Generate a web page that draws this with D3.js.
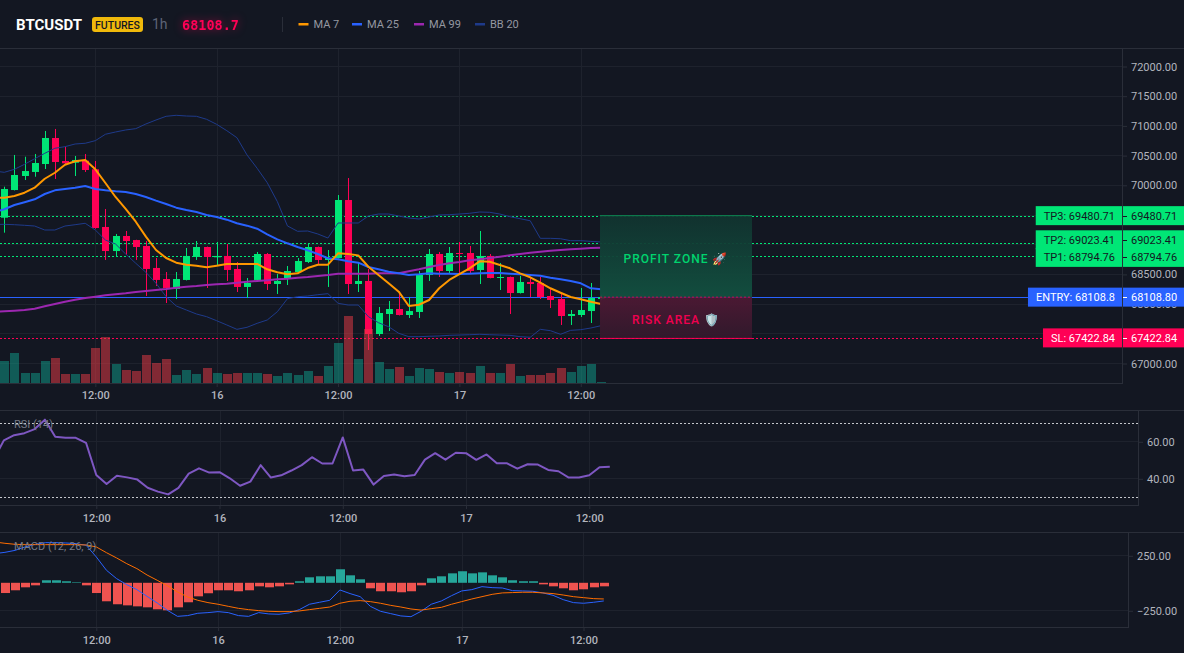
<!DOCTYPE html>
<html>
<head>
<meta charset="utf-8">
<script src="https://cdn.jsdelivr.net/npm/d3@7"></script>
<style>
  html, body { margin: 0; padding: 0; background: #131722; overflow: hidden; }
  svg { display: block; }
  text { font-family: Roboto, sans-serif; }
</style>
</head>
<body>
<div id="chart"></div>
<script>
// bars, one per hour
const opens = [69446,69912,70148,70216,70350,70788,70401,70372,70406,70261,69290,68885,69138,69070,68970,68600,68414,68246,68398,68785,68953,68780,68802,68583,68280,68398,68835,68330,68431,68532,68700,68953,68734,68768,69744,68330,68381,67488,67825,67909,67808,67859,68482,68835,68549,68852,68852,68566,68802,68431,68448,68178,68364,68347,68128,68077,67791,67808,67875,68077];
const closes = [69929,70165,70232,70367,70788,70384,70362,70418,70249,69273,68885,69138,69054,68953,68583,68398,68263,68414,68802,68953,68785,68802,68566,68280,68347,68835,68330,68381,68549,68717,68953,68734,68768,69744,68330,68381,67488,67842,67909,67808,67875,68482,68835,68549,68852,68835,68549,68802,68431,68448,68178,68364,68330,68111,68061,67791,67825,67892,68094,68108.8];
const highs = [69968,70502,70473,70519,70906,70940,70637,70485,70519,70401,69593,69172,69222,69075,69054,68768,68532,68532,68936,69054,68960,69037,69003,68700,68431,68869,68852,68498,68633,68768,69003,68960,68902,69828,70114,68684,68583,67943,68044,68195,68111,68549,68919,68869,68953,69037,68970,69222,68835,68684,68455,68465,68448,68448,68263,68162,67892,68263,68347,68150];
const lows = [69194,69905,70081,70136,70266,70098,70350,70148,70216,69260,68735,68785,68819,68735,68128,68297,68010,68077,68390,68735,68263,68633,68381,68195,68094,68390,68229,68162,68313,68525,68684,68650,68280,68760,68162,68195,67219,67455,67539,67800,67758,67758,68381,68448,68515,68515,68515,68330,68425,68229,67825,68170,68111,68077,67926,67640,67640,67774,67673,68060];
const volumes = [2200,3000,1000,1000,2200,2500,900,900,900,3500,4600,1900,1300,1200,2800,2000,2400,800,1300,900,1500,1000,900,1000,1000,1000,900,700,1000,800,1200,700,1700,4000,6700,2400,5400,2100,1400,1600,700,1500,1400,1100,1000,1100,1000,1700,1000,1000,1900,700,800,800,1000,1500,1100,1700,1900,100];

// the line series start one bar before the first candle, off the left edge
const ma7 = [69778,69783,69812,69867,69951,70102,70203,70338,70396,70418,70261,70030,69795,69593,69379,69127,68902,68768,68689,68655,68638,68611,68638,68667,68667,68667,68667,68578,68527,68493,68510,68599,68655,68655,68846,68835,68812,68621,68482,68342,68201,67960,67981,68061,68258,68398,68498,68594,68712,68705,68650,68594,68510,68443,68352,68258,68183,68111,68072,68032,67993];
const ma25 = [69542,69588,69660,69706,69756,69845,69907,69929,69951,69980,69929,69907,69890,69879,69845,69795,69733,69677,69615,69576,69542,69492,69458,69413,69352,69312,69261,69167,69082,69015,68953,68897,68835,68763,68746,68712,68689,68616,68578,68537,68510,68482,68493,68510,68503,68503,68498,68503,68510,68515,68515,68503,68493,68482,68470,68436,68409,68381,68342,68258,68241];
const ma99 = [67859,67870,67880,67892,67914,67955,67993,68032,68066,68094,68116,68140,68157,68173,68195,68212,68229,68246,68268,68285,68296,68313,68325,68335,68352,68369,68381,68392,68409,68419,68436,68448,68465,68482,68503,68503,68503,68503,68510,68510,68510,68544,68578,68616,68650,68678,68700,68729,68746,68768,68790,68813,68835,68857,68874,68890,68902,68914,68924,68936,68941];
const bbUpper = [70232,70210,70261,70345,70439,70530,70615,70642,70687,70699,70743,70851,70889,70923,70945,71024,71091,71153,71170,71158,71153,71103,71018,70911,70793,70502,70278,70035,69716,69307,69217,69222,69172,69104,69357,69357,69357,69475,69508,69508,69475,69441,69424,69458,69492,69497,69508,69520,69542,69537,69508,69463,69429,69395,69099,69099,69092,69059,69059,69048,69037];
const bbLower = [69332,69335,69328,69318,69306,69239,69239,69306,69328,69352,69239,69070,69003,68835,68679,68527,68342,68116,67960,67892,67825,67780,67712,67640,67567,67601,67668,67724,67864,68083,68116,68128,68150,68167,68005,67976,67976,67780,67678,67611,67500,67443,67443,67450,67455,67466,67471,67476,67483,67476,67471,67466,67443,67433,67567,67544,67483,67550,67561,67589,67628];
const rsi = [50.1,60.5,63.3,64.4,66.6,71.7,62.4,61.9,61.9,59.2,41.8,36.9,41.4,40.5,39.3,34.9,32.8,31.3,34.8,42.5,45.4,43.1,43.3,40,36,38.2,47.1,40.4,41.6,44.2,47.1,51.4,48,48,62.1,44.2,44.7,36.6,41.3,42,41.1,41.8,50.1,53.6,50.1,53.8,53.6,50,52.9,48.1,48.1,45.2,47.6,47.4,44.5,43.8,40.4,40.4,41.6,46,46.2];
const macdLine = [265,277,295,326,350,365,365,362,356,341,235,114,38,-17,-62,-123,-183,-250,-305,-298,-277,-271,-262,-271,-298,-305,-271,-283,-286,-274,-244,-195,-177,-159,-65,-98,-126,-214,-259,-280,-301,-308,-259,-195,-165,-117,-74,-62,-35,-44,-47,-71,-74,-77,-92,-114,-153,-180,-186,-177,-165];
const signalLine = [371,359,350,347,347,347,347,347,347,344,326,274,226,174,129,71,23,-26,-83,-129,-159,-180,-195,-214,-232,-244,-253,-259,-262,-262,-256,-244,-232,-220,-186,-168,-162,-171,-186,-205,-220,-238,-248,-235,-223,-195,-171,-147,-126,-105,-92,-89,-86,-86,-92,-98,-111,-126,-135,-144,-147];
const macdHist = [-93,-68,-41,-23,23,23,14,5,-23,-93,-168,-195,-205,-214,-223,-241,-250,-223,-177,-123,-95,-68,-68,-77,-68,-32,-41,-32,-14,14,50,59,59,123,68,32,-50,-77,-77,-86,-77,-23,41,59,86,105,86,95,68,50,23,14,14,-14,-32,-50,-68,-59,-41,-32];

const timeTicks = [9, 21, 33, 45, 57];
const timeLabels = ['12:00', '16', '12:00', '17', '12:00'];
const priceGrid = [72000, 71500, 71000, 70500, 70000, 69500, 69000, 68500, 68000, 67500, 67000];
// 69500, 69000 and 67500 are covered by the level tags
const priceTicks = [72000, 71500, 71000, 70500, 70000, 68500, 68000, 67000];
const rsiTicks = [60, 40];
const rsiBands = [70, 30];
const macdTicks = [250, -250];

const levelNames = ['TP3', 'TP2', 'TP1', 'ENTRY', 'SL'];
const levelPrices = [69480.71, 69023.41, 68794.76, 68108.8, 67422.84];
const levelTexts = ['69480.71', '69023.41', '68794.76', '68108.8', '67422.84'];
const levelAxis = ['69480.71', '69023.41', '68794.76', '68108.80', '67422.84'];

const width = 1184;
const height = 653;
const bg = '#131722';
const gridColor = '#1e222d';
const borderColor = '#2a2e39';
const axisText = '#b2b5be';
const up = '#00e676';
const down = '#ff0055';
const levelColors = [up, up, up, '#2962ff', down];
const levelInk = [bg, bg, bg, '#ffffff', '#ffffff'];

const svg = d3.select('#chart').append('svg')
    .attr('width', width)
    .attr('height', height)
    .style('background', bg);

const defs = svg.append('defs');

function gradient(id, from, to) {
    const g = defs.append('linearGradient').attr('id', id).attr('x1', 0).attr('x2', 0).attr('y1', 0).attr('y2', 1);
    g.append('stop').attr('offset', 0).attr('stop-color', from);
    g.append('stop').attr('offset', 1).attr('stop-color', to);
}
gradient('profitFill', '#11332f', '#125040');
gradient('riskFill', '#4e1934', '#32192c');

// scales, each pane has its own bar spacing
const xMain = d3.scaleLinear().domain([0, 59]).range([4.3, 601]);
const xRsi = d3.scaleLinear().domain([0, 59]).range([3.87, 609.8]);
const xMacd = d3.scaleLinear().domain([0, 59]).range([4.95, 603.8]);
const yPrice = d3.scaleLinear().domain([67000, 72000]).range([363, 66]);
const yVolume = d3.scaleLinear().domain([0, 6700]).range([383, 316]);
const yRsi = d3.scaleLinear().domain([40, 60]).range([478.3, 441.3]);
const yMacd = d3.scaleLinear().domain([-250, 250]).range([610.3, 555.3]);

const bars = d3.range(60).map(i => ({i, open: opens[i], close: closes[i], high: highs[i], low: lows[i], volume: volumes[i], hist: macdHist[i]}));

function hGrid(values, y, x1) {
    svg.append('g').selectAll('line').data(values).join('line')
        .attr('x1', 0).attr('x2', x1)
        .attr('y1', d => Math.round(y(d)) + 0.5).attr('y2', d => Math.round(y(d)) + 0.5)
        .attr('stroke', gridColor);
}

function vGrid(x, top, bottom) {
    svg.append('g').selectAll('line').data(timeTicks).join('line')
        .attr('x1', d => Math.round(x(d)) + 0.5).attr('x2', d => Math.round(x(d)) + 0.5)
        .attr('y1', top).attr('y2', bottom)
        .attr('stroke', gridColor);
}

function timeAxis(x, bottom, pad) {
    const g = svg.append('g')
        .attr('transform', `translate(0, ${bottom})`)
        .call(d3.axisBottom(x).tickValues(timeTicks).tickFormat((d, k) => timeLabels[k]).tickSize(4).tickPadding(pad));
    g.select('.domain').remove();
    g.selectAll('line').attr('stroke', borderColor);
    g.selectAll('text').attr('fill', axisText).attr('font-size', 11).attr('font-weight', 500).attr('font-family', 'Roboto, sans-serif');
}

function valueAxis(y, values, left) {
    const g = svg.append('g')
        .attr('transform', `translate(${left}, 0.5)`)
        .call(d3.axisRight(y).tickValues(values).tickFormat(d3.format('.2f')).tickSize(5).tickPadding(4));
    g.select('.domain').remove();
    g.selectAll('line').attr('stroke', borderColor);
    g.selectAll('text').attr('fill', axisText).attr('font-size', 11).attr('font-family', 'Roboto, sans-serif');
}

function paneFrame(top, bottom, right) {
    svg.append('line').attr('x1', 0).attr('x2', width).attr('y1', top + 0.5).attr('y2', top + 0.5).attr('stroke', borderColor);
    svg.append('line').attr('x1', 0).attr('x2', right).attr('y1', bottom + 0.5).attr('y2', bottom + 0.5).attr('stroke', borderColor);
    svg.append('line').attr('x1', right + 0.5).attr('x2', right + 0.5).attr('y1', top).attr('y2', bottom + 1).attr('stroke', borderColor);
}

function drawLine(values, x, y, color, w) {
    svg.append('path')
        .attr('d', d3.line().x((d, k) => x(k - 1)).y(d => y(d))(values))
        .attr('fill', 'none')
        .attr('stroke', color)
        .attr('stroke-width', w)
        .attr('stroke-linejoin', 'round');
}

// main pane
hGrid(priceGrid, yPrice, 1122);
vGrid(xMain, 48, 383);

// price levels sit under the candles
const levelEnds = [1038, 1038, 1038, 1032, 1046];
svg.append('g').selectAll('line').data(levelPrices).join('line')
    .attr('x1', 0).attr('x2', (d, k) => levelEnds[k])
    .attr('y1', d => Math.round(yPrice(d)) + 0.5).attr('y2', d => Math.round(yPrice(d)) + 0.5)
    .attr('stroke', (d, k) => levelColors[k])
    .attr('stroke-dasharray', (d, k) => levelNames[k] === 'ENTRY' ? null : '2,2');

const candles = svg.append('g').selectAll('g').data(bars).join('g');
candles.append('line')
    .attr('x1', d => Math.round(xMain(d.i)) + 0.5).attr('x2', d => Math.round(xMain(d.i)) + 0.5)
    .attr('y1', d => yPrice(d.high)).attr('y2', d => yPrice(d.low))
    .attr('stroke', d => d.close >= d.open ? up : down);
candles.append('rect')
    .attr('x', d => Math.round(xMain(d.i)) - 3)
    .attr('width', 7)
    .attr('y', d => yPrice(Math.max(d.open, d.close)))
    .attr('height', d => Math.max(1, Math.abs(yPrice(d.open) - yPrice(d.close))))
    .attr('fill', d => d.close >= d.open ? up : down);

svg.append('g').selectAll('rect').data(bars).join('rect')
    .attr('x', d => Math.round(xMain(d.i)) - 4)
    .attr('width', 9)
    .attr('y', d => yVolume(d.volume))
    .attr('height', d => yVolume(0) - yVolume(d.volume))
    .attr('fill', d => d.close >= d.open ? 'rgba(15,160,140,0.5)' : 'rgba(240,60,70,0.5)');

drawLine(bbUpper, xMain, yPrice, '#1e3a8a', 1);
drawLine(bbLower, xMain, yPrice, '#1e3a8a', 1);
drawLine(ma99, xMain, yPrice, '#9c27b0', 2);
drawLine(ma25, xMain, yPrice, '#2962ff', 2);
drawLine(ma7, xMain, yPrice, '#ff9800', 2);

// profit and risk boxes
const boxLeft = 600;
const boxRight = 752;
const tp3Y = yPrice(levelPrices[0]);
const entryY = yPrice(levelPrices[3]);
const slY = yPrice(levelPrices[4]);
svg.append('rect').attr('x', boxLeft).attr('y', tp3Y).attr('width', boxRight - boxLeft).attr('height', entryY - tp3Y)
    .attr('fill', 'url(#profitFill)').attr('fill-opacity', 0.95);
svg.append('rect').attr('x', boxLeft).attr('y', entryY).attr('width', boxRight - boxLeft).attr('height', slY - entryY)
    .attr('fill', 'url(#riskFill)').attr('fill-opacity', 0.95);
svg.append('line').attr('x1', boxLeft).attr('x2', boxRight).attr('y1', tp3Y).attr('y2', tp3Y).attr('stroke', up).attr('stroke-opacity', 0.5);
svg.append('line').attr('x1', boxLeft).attr('x2', boxRight).attr('y1', entryY).attr('y2', entryY).attr('stroke', down).attr('stroke-dasharray', '2,2').attr('stroke-opacity', 0.7);
svg.append('line').attr('x1', boxLeft).attr('x2', boxRight).attr('y1', slY + 0.5).attr('y2', slY + 0.5).attr('stroke', down);
svg.append('text').text('PROFIT ZONE 🚀')
    .attr('x', 676).attr('y', 263).attr('text-anchor', 'middle')
    .attr('fill', '#00d46e').attr('font-size', 12).attr('font-weight', 500).attr('letter-spacing', 1);
svg.append('text').text('RISK AREA 🛡️')
    .attr('x', 676).attr('y', 324).attr('text-anchor', 'middle')
    .attr('fill', '#f0004f').attr('font-size', 12).attr('font-weight', 500).attr('letter-spacing', 1);

paneFrame(48, 383, 1122);
timeAxis(xMain, 383, 4);
valueAxis(yPrice, priceTicks, 1122);

// tags on the price axis, TP2 and TP1 get pushed apart
const tagShift = {TP2: -3, TP1: 1};
levelNames.forEach((name, k) => {
    const cy = yPrice(levelPrices[k]) + (tagShift[name] || 0);
    const g = svg.append('g');
    const label = g.append('text').text(`${name}: ${levelTexts[k]}`)
        .attr('x', 1115).attr('y', cy + 4).attr('text-anchor', 'end')
        .attr('fill', levelInk[k]).attr('font-size', 11);
    const w = label.node().getComputedTextLength() + 15;
    g.insert('rect', 'text').attr('x', 1122 - w).attr('y', cy - 9.5).attr('width', w).attr('height', 19).attr('fill', levelColors[k]);
    g.append('rect').attr('x', 1123).attr('y', cy - 9.5).attr('width', 61).attr('height', 19).attr('fill', levelColors[k]);
    g.append('line').attr('x1', 1123).attr('x2', 1127).attr('y1', Math.round(cy) + 0.5).attr('y2', Math.round(cy) + 0.5).attr('stroke', levelInk[k]);
    g.append('text').text(levelAxis[k]).attr('x', 1131).attr('y', cy + 4).attr('fill', levelInk[k]).attr('font-size', 11);
});

// RSI pane
hGrid(rsiTicks, yRsi, 1138);
vGrid(xRsi, 410, 505);
svg.append('g').selectAll('line').data(rsiBands).join('line')
    .attr('x1', 0).attr('x2', 1138)
    .attr('y1', d => Math.round(yRsi(d)) + 0.5).attr('y2', d => Math.round(yRsi(d)) + 0.5)
    .attr('stroke', '#c4c6cc').attr('stroke-dasharray', '2,2');
drawLine(rsi, xRsi, yRsi, '#7e57c2', 2);
paneFrame(410, 505, 1138);
timeAxis(xRsi, 505, 5);
valueAxis(yRsi, rsiTicks, 1138);
svg.append('text').text('RSI (14)').attr('x', 14).attr('y', 428).attr('fill', '#787b86').attr('font-size', 11);

// MACD pane
hGrid(macdTicks, yMacd, 1128);
vGrid(xMacd, 532, 627);
svg.append('g').selectAll('rect').data(bars).join('rect')
    .attr('x', d => Math.round(xMacd(d.i)) - 4)
    .attr('width', 9)
    .attr('y', d => Math.min(yMacd(d.hist), yMacd(0)))
    .attr('height', d => Math.abs(yMacd(d.hist) - yMacd(0)))
    .attr('fill', d => d.hist >= 0 ? '#26a69a' : '#ef5350');
drawLine(macdLine, xMacd, yMacd, '#2962ff', 1);
drawLine(signalLine, xMacd, yMacd, '#ff6d00', 1);
paneFrame(532, 627, 1128);
timeAxis(xMacd, 627, 5);
valueAxis(yMacd, macdTicks, 1128);
svg.append('text').text('MACD (12, 26, 9)').attr('x', 14).attr('y', 550).attr('fill', '#787b86').attr('font-size', 11);

// header
svg.append('text').text('BTCUSDT').attr('x', 16).attr('y', 29.5).attr('fill', '#ffffff').attr('font-size', 15).attr('font-weight', 700);
svg.append('rect').attr('x', 92).attr('y', 17).attr('width', 51).attr('height', 15).attr('rx', 3).attr('fill', '#f0b90b');
svg.append('text').text('FUTURES').attr('x', 117.5).attr('y', 28.5).attr('text-anchor', 'middle').attr('fill', '#131722').attr('font-size', 10.5).attr('font-weight', 500);
svg.append('text').text('1h').attr('x', 152).attr('y', 29).attr('fill', '#5d6478').attr('font-size', 14);
svg.append('text').text('68108.7').attr('x', 182).attr('y', 29.5).attr('fill', down)
    .attr('font-size', 13.5).attr('font-weight', 700)
    .style('font-family', '"DejaVu Sans Mono", monospace')
    .style('filter', 'drop-shadow(0 0 4px rgba(255,0,85,0.5))');
svg.append('line').attr('x1', 282.5).attr('x2', 282.5).attr('y1', 17).attr('y2', 32).attr('stroke', borderColor);

const legendNames = ['MA 7', 'MA 25', 'MA 99', 'BB 20'];
const legendColors = ['#ff9800', '#2962ff', '#9c27b0', '#1e3a8a'];
const legendX = [298.5, 352, 414, 475];
legendNames.forEach((name, k) => {
    svg.append('rect').attr('x', legendX[k]).attr('y', 23).attr('width', 10).attr('height', 2.5).attr('fill', legendColors[k]);
    svg.append('text').text(name).attr('x', legendX[k] + 15).attr('y', 28).attr('fill', '#9598a1').attr('font-size', 11);
});
</script>
</body>
</html>
